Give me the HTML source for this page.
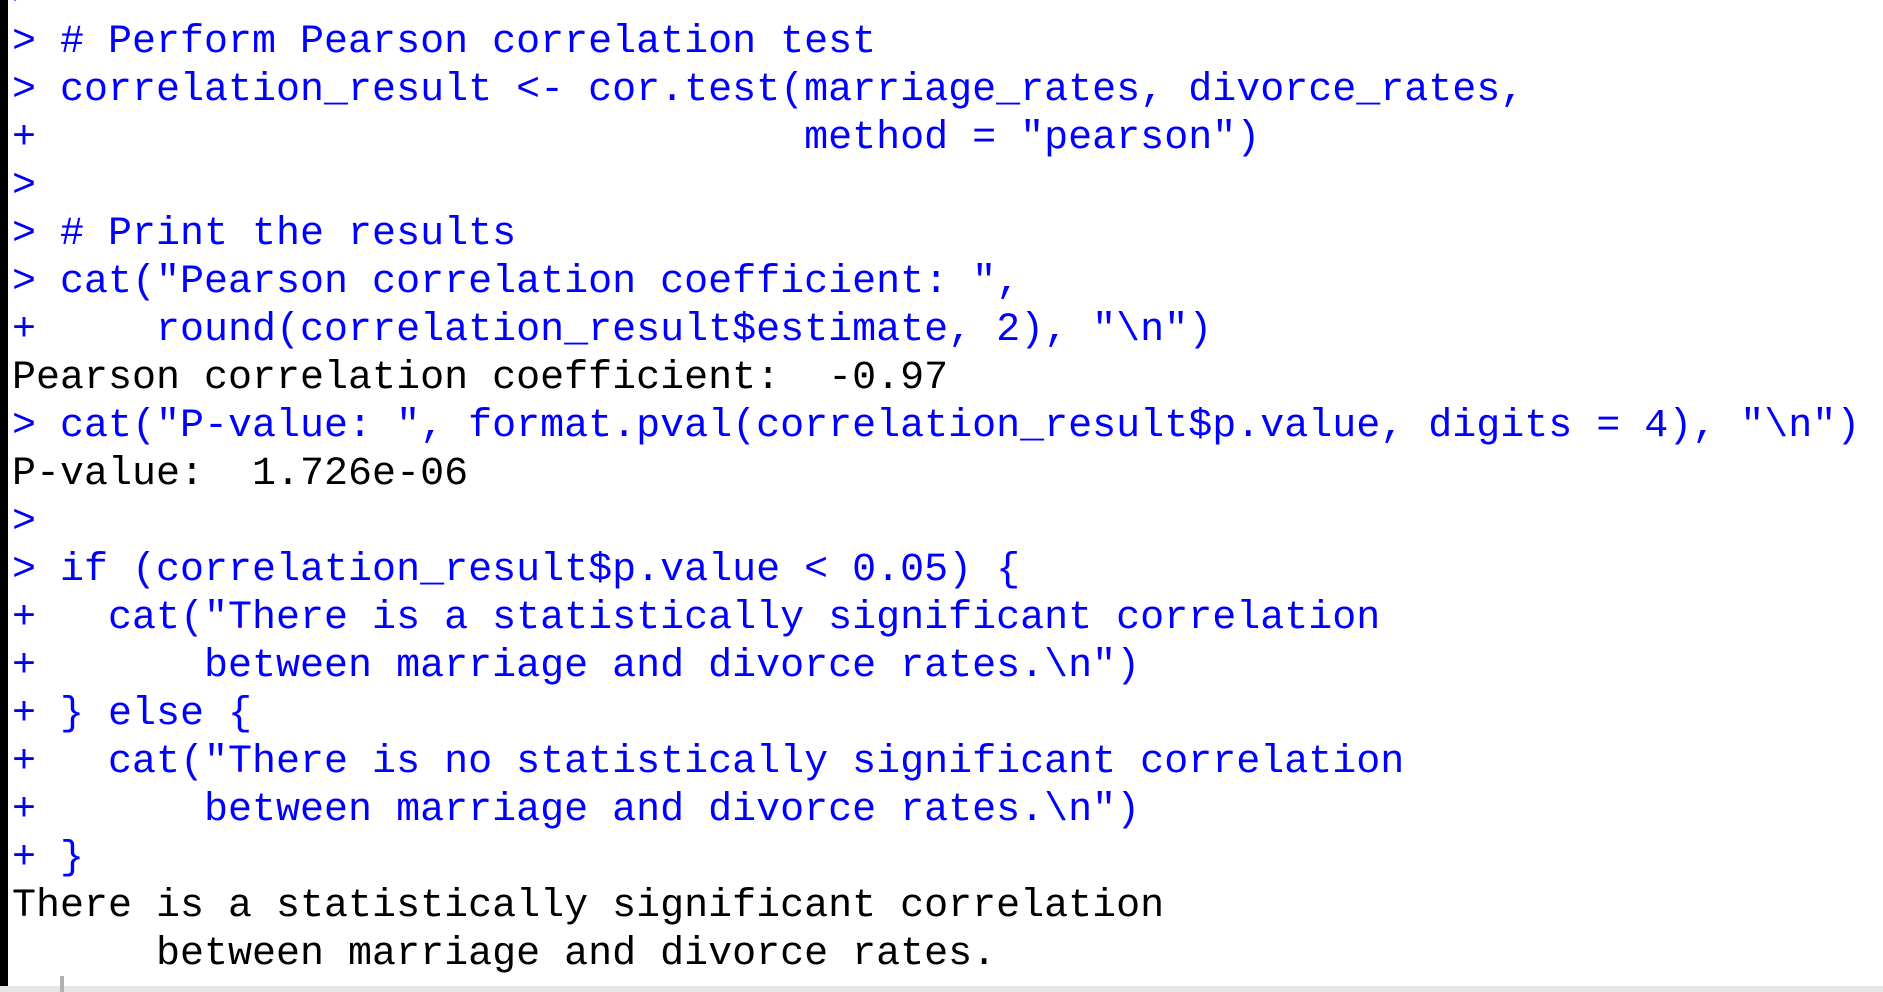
<!DOCTYPE html>
<html><head><meta charset="utf-8"><style>
html,body{margin:0;padding:0;width:1883px;height:992px;overflow:hidden;background:#fff}
#bar{position:absolute;left:0;top:0;width:8px;height:992px;background:#000}
#con{position:absolute;left:12px;top:-29px;margin:0;font-family:"Liberation Mono",monospace;font-size:40px;line-height:48px;white-space:pre;color:#0000ff}
.o{color:#000}
#hl{position:absolute;left:0;top:986px;width:1883px;height:6px;background:#e6e6e6}
#tick{position:absolute;left:60px;top:976px;width:4px;height:16px;background:#b0b0b0}
</style></head><body>
<div id="bar"></div>
<pre id="con">&gt;
&gt; # Perform Pearson correlation test
&gt; correlation_result &lt;- cor.test(marriage_rates, divorce_rates,
+                                method = "pearson")
&gt;
&gt; # Print the results
&gt; cat("Pearson correlation coefficient: ",
+     round(correlation_result$estimate, 2), "\n")
<span class="o">Pearson correlation coefficient:  -0.97</span>
&gt; cat("P-value: ", format.pval(correlation_result$p.value, digits = 4), "\n")
<span class="o">P-value:  1.726e-06</span>
&gt;
&gt; if (correlation_result$p.value &lt; 0.05) {
+   cat("There is a statistically significant correlation
+       between marriage and divorce rates.\n")
+ } else {
+   cat("There is no statistically significant correlation
+       between marriage and divorce rates.\n")
+ }
<span class="o">There is a statistically significant correlation
      between marriage and divorce rates.</span></pre>
<div id="hl"></div>
<div id="tick"></div>
</body></html>
